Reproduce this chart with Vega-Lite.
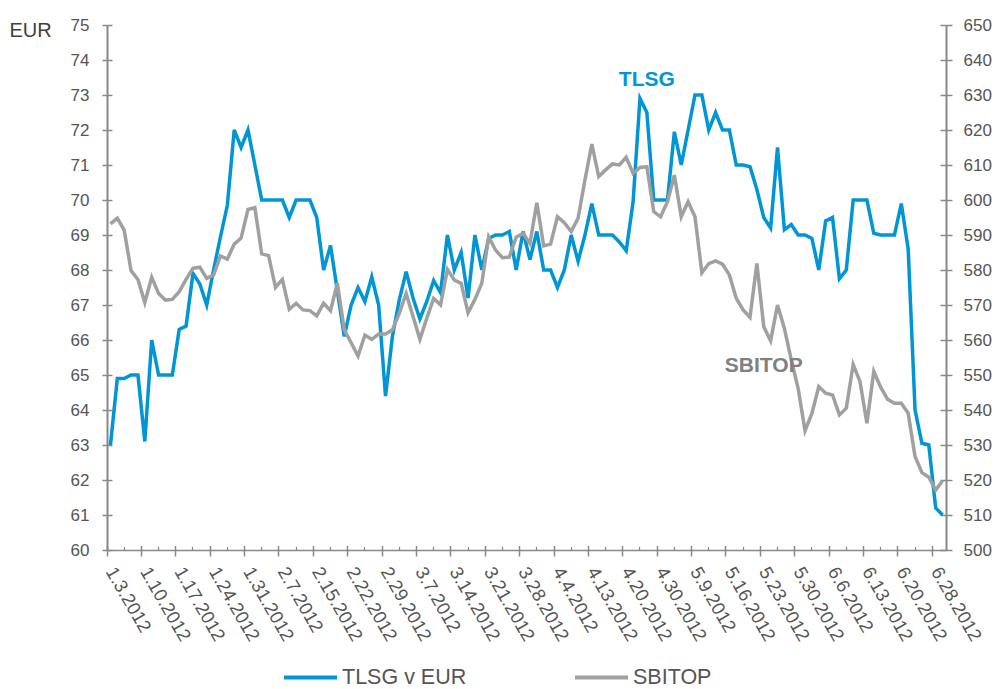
{
  "$schema": "https://vega.github.io/schema/vega-lite/v6.json",
  "width": 839,
  "height": 525,
  "autosize": {"type": "none"},
  "padding": {"left": 107, "top": 25, "right": 49, "bottom": 139},
  "background": "white",
  "config": {
    "font": "Liberation Sans",
    "view": {"stroke": null},
    "axis": {"grid": false, "labelColor": "#555555", "domainColor": "#888888", "tickColor": "#888888", "labelFont": "Liberation Sans"}
  },
  "data": {"values": [
    {"d": "1.3.2012", "tlsg": 63.0, "sbitop": 593.2},
    {"d": "1.4.2012", "tlsg": 64.9, "sbitop": 594.8},
    {"d": "1.5.2012", "tlsg": 64.9, "sbitop": 591.4},
    {"d": "1.6.2012", "tlsg": 65.0, "sbitop": 579.8},
    {"d": "1.9.2012", "tlsg": 65.0, "sbitop": 577.3},
    {"d": "1.10.2012", "tlsg": 63.1, "sbitop": 570.7},
    {"d": "1.11.2012", "tlsg": 66.0, "sbitop": 577.9},
    {"d": "1.12.2012", "tlsg": 65.0, "sbitop": 573.3},
    {"d": "1.13.2012", "tlsg": 65.0, "sbitop": 571.4},
    {"d": "1.16.2012", "tlsg": 65.0, "sbitop": 571.6},
    {"d": "1.17.2012", "tlsg": 66.3, "sbitop": 573.8},
    {"d": "1.18.2012", "tlsg": 66.4, "sbitop": 577.3},
    {"d": "1.19.2012", "tlsg": 67.9, "sbitop": 580.5},
    {"d": "1.20.2012", "tlsg": 67.6, "sbitop": 580.8},
    {"d": "1.23.2012", "tlsg": 67.0, "sbitop": 577.6},
    {"d": "1.24.2012", "tlsg": 68.0, "sbitop": 578.6},
    {"d": "1.25.2012", "tlsg": 68.95, "sbitop": 584.0},
    {"d": "1.26.2012", "tlsg": 69.85, "sbitop": 583.1},
    {"d": "1.27.2012", "tlsg": 72.0, "sbitop": 587.4},
    {"d": "1.30.2012", "tlsg": 71.5, "sbitop": 589.1},
    {"d": "1.31.2012", "tlsg": 72.0, "sbitop": 597.3},
    {"d": "2.1.2012", "tlsg": 71.0, "sbitop": 597.8},
    {"d": "2.2.2012", "tlsg": 70.0, "sbitop": 584.6},
    {"d": "2.3.2012", "tlsg": 70.0, "sbitop": 584.1},
    {"d": "2.6.2012", "tlsg": 70.0, "sbitop": 575.0},
    {"d": "2.7.2012", "tlsg": 70.0, "sbitop": 577.3},
    {"d": "2.9.2012", "tlsg": 69.5, "sbitop": 568.8},
    {"d": "2.10.2012", "tlsg": 70.0, "sbitop": 570.5},
    {"d": "2.13.2012", "tlsg": 70.0, "sbitop": 568.6},
    {"d": "2.14.2012", "tlsg": 70.0, "sbitop": 568.4},
    {"d": "2.15.2012", "tlsg": 69.5, "sbitop": 566.9},
    {"d": "2.16.2012", "tlsg": 68.0, "sbitop": 570.5},
    {"d": "2.17.2012", "tlsg": 68.7, "sbitop": 568.4},
    {"d": "2.20.2012", "tlsg": 67.4, "sbitop": 576.2},
    {"d": "2.21.2012", "tlsg": 66.1, "sbitop": 562.9},
    {"d": "2.22.2012", "tlsg": 67.0, "sbitop": 559.2},
    {"d": "2.23.2012", "tlsg": 67.5, "sbitop": 555.4},
    {"d": "2.24.2012", "tlsg": 67.1, "sbitop": 561.4},
    {"d": "2.27.2012", "tlsg": 67.8, "sbitop": 560.2},
    {"d": "2.28.2012", "tlsg": 67.0, "sbitop": 561.7},
    {"d": "2.29.2012", "tlsg": 64.4, "sbitop": 561.7},
    {"d": "3.1.2012", "tlsg": 66.1, "sbitop": 562.9},
    {"d": "3.2.2012", "tlsg": 67.15, "sbitop": 567.6},
    {"d": "3.5.2012", "tlsg": 67.95, "sbitop": 573.3},
    {"d": "3.6.2012", "tlsg": 67.2, "sbitop": 566.7},
    {"d": "3.7.2012", "tlsg": 66.6, "sbitop": 560.2},
    {"d": "3.8.2012", "tlsg": 67.1, "sbitop": 566.2},
    {"d": "3.9.2012", "tlsg": 67.7, "sbitop": 571.9},
    {"d": "3.12.2012", "tlsg": 67.35, "sbitop": 570.0},
    {"d": "3.13.2012", "tlsg": 69.0, "sbitop": 580.2},
    {"d": "3.14.2012", "tlsg": 68.0, "sbitop": 577.1},
    {"d": "3.15.2012", "tlsg": 68.5, "sbitop": 576.2},
    {"d": "3.16.2012", "tlsg": 67.2, "sbitop": 567.8},
    {"d": "3.19.2012", "tlsg": 69.0, "sbitop": 571.6},
    {"d": "3.20.2012", "tlsg": 68.0, "sbitop": 576.2},
    {"d": "3.21.2012", "tlsg": 68.9, "sbitop": 589.5},
    {"d": "3.22.2012", "tlsg": 69.0, "sbitop": 585.7},
    {"d": "3.23.2012", "tlsg": 69.0, "sbitop": 583.5},
    {"d": "3.26.2012", "tlsg": 69.1, "sbitop": 583.7},
    {"d": "3.27.2012", "tlsg": 68.0, "sbitop": 589.4},
    {"d": "3.28.2012", "tlsg": 69.1, "sbitop": 590.5},
    {"d": "3.29.2012", "tlsg": 68.3, "sbitop": 587.6},
    {"d": "3.30.2012", "tlsg": 69.1, "sbitop": 599.2},
    {"d": "4.2.2012", "tlsg": 68.0, "sbitop": 586.9},
    {"d": "4.3.2012", "tlsg": 68.0, "sbitop": 587.4},
    {"d": "4.4.2012", "tlsg": 67.5, "sbitop": 595.2},
    {"d": "4.5.2012", "tlsg": 68.0, "sbitop": 593.5},
    {"d": "4.10.2012", "tlsg": 69.0, "sbitop": 591.0},
    {"d": "4.11.2012", "tlsg": 68.25, "sbitop": 594.8},
    {"d": "4.12.2012", "tlsg": 69.0, "sbitop": 605.7},
    {"d": "4.13.2012", "tlsg": 69.9, "sbitop": 616.0},
    {"d": "4.16.2012", "tlsg": 69.0, "sbitop": 606.7},
    {"d": "4.17.2012", "tlsg": 69.0, "sbitop": 608.6},
    {"d": "4.18.2012", "tlsg": 69.0, "sbitop": 610.3},
    {"d": "4.19.2012", "tlsg": 68.8, "sbitop": 610.0},
    {"d": "4.20.2012", "tlsg": 68.55, "sbitop": 612.2},
    {"d": "4.23.2012", "tlsg": 69.95, "sbitop": 607.6},
    {"d": "4.24.2012", "tlsg": 72.9, "sbitop": 609.3},
    {"d": "4.25.2012", "tlsg": 72.5, "sbitop": 609.5},
    {"d": "4.26.2012", "tlsg": 70.0, "sbitop": 596.7},
    {"d": "4.30.2012", "tlsg": 70.0, "sbitop": 595.2},
    {"d": "5.3.2012", "tlsg": 70.0, "sbitop": 599.5},
    {"d": "5.4.2012", "tlsg": 71.95, "sbitop": 607.1},
    {"d": "5.7.2012", "tlsg": 71.0, "sbitop": 595.2},
    {"d": "5.8.2012", "tlsg": 72.0, "sbitop": 599.5},
    {"d": "5.9.2012", "tlsg": 73.0, "sbitop": 595.2},
    {"d": "5.10.2012", "tlsg": 73.0, "sbitop": 579.2},
    {"d": "5.11.2012", "tlsg": 72.0, "sbitop": 581.8},
    {"d": "5.14.2012", "tlsg": 72.5, "sbitop": 582.6},
    {"d": "5.15.2012", "tlsg": 72.0, "sbitop": 581.7},
    {"d": "5.16.2012", "tlsg": 72.0, "sbitop": 578.6},
    {"d": "5.17.2012", "tlsg": 71.0, "sbitop": 571.9},
    {"d": "5.18.2012", "tlsg": 71.0, "sbitop": 568.6},
    {"d": "5.21.2012", "tlsg": 70.95, "sbitop": 566.5},
    {"d": "5.22.2012", "tlsg": 70.3, "sbitop": 581.9},
    {"d": "5.23.2012", "tlsg": 69.5, "sbitop": 563.8},
    {"d": "5.24.2012", "tlsg": 69.2, "sbitop": 559.8},
    {"d": "5.25.2012", "tlsg": 71.5, "sbitop": 570.0},
    {"d": "5.28.2012", "tlsg": 69.15, "sbitop": 563.3},
    {"d": "5.29.2012", "tlsg": 69.3, "sbitop": 554.3},
    {"d": "5.30.2012", "tlsg": 69.0, "sbitop": 546.2},
    {"d": "5.31.2012", "tlsg": 69.0, "sbitop": 534.1},
    {"d": "6.1.2012", "tlsg": 68.9, "sbitop": 539.0},
    {"d": "6.4.2012", "tlsg": 68.0, "sbitop": 546.7},
    {"d": "6.5.2012", "tlsg": 69.4, "sbitop": 544.8},
    {"d": "6.6.2012", "tlsg": 69.5, "sbitop": 544.3},
    {"d": "6.7.2012", "tlsg": 67.75, "sbitop": 538.6},
    {"d": "6.8.2012", "tlsg": 68.0, "sbitop": 540.5},
    {"d": "6.11.2012", "tlsg": 70.0, "sbitop": 553.0},
    {"d": "6.12.2012", "tlsg": 70.0, "sbitop": 548.1},
    {"d": "6.13.2012", "tlsg": 70.0, "sbitop": 536.2},
    {"d": "6.14.2012", "tlsg": 69.05, "sbitop": 551.0},
    {"d": "6.15.2012", "tlsg": 69.0, "sbitop": 546.5},
    {"d": "6.18.2012", "tlsg": 69.0, "sbitop": 543.1},
    {"d": "6.19.2012", "tlsg": 69.0, "sbitop": 541.9},
    {"d": "6.20.2012", "tlsg": 69.9, "sbitop": 541.9},
    {"d": "6.21.2012", "tlsg": 68.6, "sbitop": 539.1},
    {"d": "6.22.2012", "tlsg": 64.0, "sbitop": 526.7},
    {"d": "6.26.2012", "tlsg": 63.05, "sbitop": 522.1},
    {"d": "6.27.2012", "tlsg": 63.0, "sbitop": 520.8},
    {"d": "6.28.2012", "tlsg": 61.2, "sbitop": 517.1},
    {"d": "6.29.2012", "tlsg": 61.0, "sbitop": 519.8}
  ]},
  "layer": [
    {
      "layer": [
        {
          "mark": {"type": "line", "strokeWidth": 3.5},
          "encoding": {
            "x": {"field": "d", "type": "ordinal", "sort": null, "bandPosition": 0.5,
              "scale": {"type": "band", "paddingInner": 0, "paddingOuter": 0},
              "axis": {"orient": "bottom", "values": ["1.3.2012","1.10.2012","1.17.2012","1.24.2012","1.31.2012","2.7.2012","2.15.2012","2.22.2012","2.29.2012","3.7.2012","3.14.2012","3.21.2012","3.28.2012","4.4.2012","4.13.2012","4.20.2012","4.30.2012","5.9.2012","5.16.2012","5.23.2012","5.30.2012","6.6.2012","6.13.2012","6.20.2012","6.28.2012"],
                "bandPosition": 0, "tickSize": 6, "tickWidth": 1.5, "domainWidth": 1.5,
                "labelAngle": 60, "labelAlign": "left", "labelBaseline": "middle", "labelPadding": 12,
                "labelFontSize": 18.5, "labelOverlap": false, "labelBound": false, "title": null}},
            "y": {"field": "tlsg", "type": "quantitative",
              "scale": {"domain": [60, 75], "nice": false, "zero": false},
              "axis": {"orient": "left", "values": [60,61,62,63,64,65,66,67,68,69,70,71,72,73,74,75],
                "tickSize": 5, "tickWidth": 1.5, "domainWidth": 2, "labelFontSize": 17, "labelPadding": 13,
                "title": "EUR", "titleAngle": 0, "titleX": -98, "titleY": 5, "titleAlign": "left",
                "titleBaseline": "middle", "titleFontSize": 20, "titleFontWeight": "normal", "titleColor": "#404040"}},
            "color": {"datum": "TLSG v EUR",
              "scale": {"domain": ["TLSG v EUR", "SBITOP"], "range": ["#0096D6", "#A0A0A0"]},
              "legend": {"orient": "none", "legendX": 175, "legendY": 624, "direction": "horizontal", "title": null,
                "symbolType": "stroke", "symbolSize": 2809, "symbolStrokeWidth": 4, "labelFontSize": 21.5,
                "labelColor": "#555555", "labelOffset": 3, "columnPadding": 100, "padding": 0, "labelLimit": 300}}
          }
        },
        {
          "transform": [{"filter": "datum.d === '4.25.2012'"}],
          "mark": {"type": "text", "text": "TLSG", "color": "#0096D6", "fontSize": 21, "fontWeight": "bold", "baseline": "middle", "align": "center"},
          "encoding": {
            "x": {"field": "d", "type": "ordinal", "sort": null, "bandPosition": 0.5,
              "axis": {"orient": "bottom", "values": ["1.3.2012","1.10.2012","1.17.2012","1.24.2012","1.31.2012","2.7.2012","2.15.2012","2.22.2012","2.29.2012","3.7.2012","3.14.2012","3.21.2012","3.28.2012","4.4.2012","4.13.2012","4.20.2012","4.30.2012","5.9.2012","5.16.2012","5.23.2012","5.30.2012","6.6.2012","6.13.2012","6.20.2012","6.28.2012"],
                "bandPosition": 0, "tickSize": -4.5, "tickWidth": 1.5, "domain": false, "labels": false, "title": null}},
            "y": {"datum": 73.43, "type": "quantitative",
              "axis": {"orient": "left", "values": [60,61,62,63,64,65,66,67,68,69,70,71,72,73,74,75],
                "tickSize": -5, "tickWidth": 1.5, "domain": false, "labels": false, "title": null}}
          }
        }
      ],
      "resolve": {"axis": {"x": "independent", "y": "independent"}}
    },
    {
      "layer": [
        {
          "mark": {"type": "line", "strokeWidth": 3.5},
          "encoding": {
            "x": {"field": "d", "type": "ordinal", "sort": null, "bandPosition": 0.5,
              "axis": {"orient": "bottom", "values": ["1.5.2012","1.12.2012","1.19.2012","1.26.2012","2.2.2012","2.10.2012","2.17.2012","2.24.2012","3.2.2012","3.9.2012","3.16.2012","3.23.2012","3.30.2012","4.10.2012","4.17.2012","4.24.2012","5.4.2012","5.11.2012","5.18.2012","5.25.2012","6.1.2012","6.8.2012","6.15.2012","6.22.2012"],
                "bandPosition": 0.5, "tickSize": -3.5, "tickWidth": 1.2, "domain": false, "labels": false, "title": null}},
            "y": {"field": "sbitop", "type": "quantitative",
              "scale": {"domain": [500, 650], "nice": false, "zero": false},
              "axis": {"orient": "right", "values": [500,510,520,530,540,550,560,570,580,590,600,610,620,630,640,650],
                "tickSize": 6, "tickWidth": 1.5, "domainWidth": 2, "labelFontSize": 17, "labelPadding": 11, "title": null}},
            "color": {"datum": "SBITOP"}
          }
        },
        {
          "transform": [{"filter": "datum.d === '5.23.2012'"}],
          "mark": {"type": "text", "text": "SBITOP", "color": "#808080", "fontSize": 21, "fontWeight": "bold", "baseline": "middle", "align": "center"},
          "encoding": {
            "x": {"field": "d", "type": "ordinal", "sort": null, "bandPosition": 0.5, "axis": null},
            "y": {"datum": 552.6, "type": "quantitative",
              "axis": {"orient": "right", "values": [500,510,520,530,540,550,560,570,580,590,600,610,620,630,640,650],
                "tickSize": -6, "tickWidth": 1.5, "domain": false, "labels": false, "title": null}}
          }
        }
      ],
      "resolve": {"axis": {"x": "independent", "y": "independent"}}
    }
  ],
  "resolve": {"scale": {"y": "independent"}, "axis": {"x": "independent"}}
}
